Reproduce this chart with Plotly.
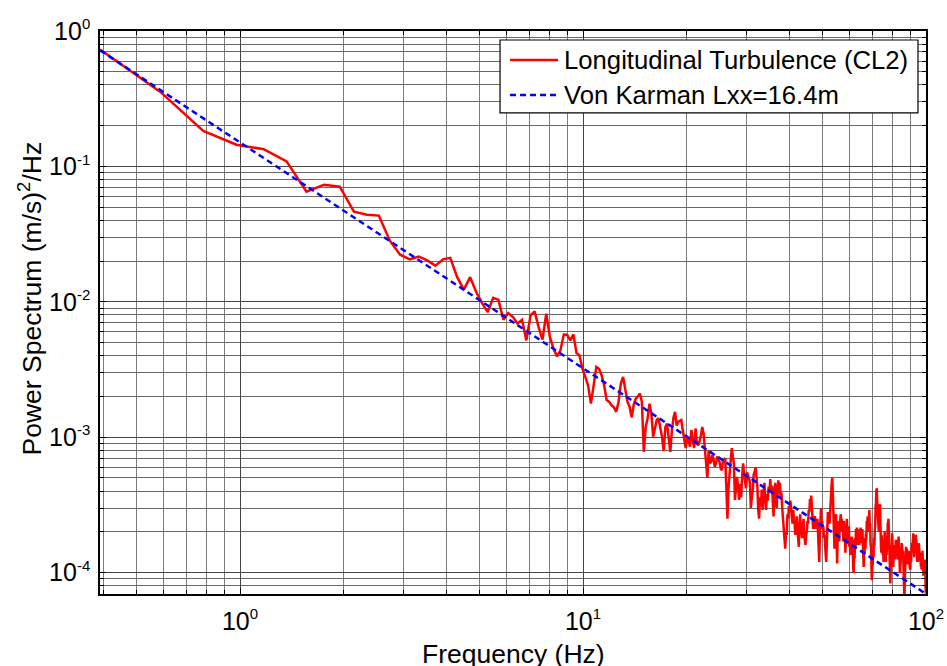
import numpy as np
import plotly.graph_objects as go

# Frequency bin spacing of the spectral estimate (Hz); first bin shown is #2
DF = 0.1953125
FIRST_BIN = 2

# Measured longitudinal turbulence spectrum, CL2 ((m/s)^2/Hz), one value per bin
psd_cl2 = [
    0.73, 0.355, 0.183, 0.1445, 0.134, 0.109, 0.065, 0.0733, 0.0708, 0.0463,
    0.044, 0.0433, 0.0283, 0.0223, 0.0206, 0.0216,
    0.0202, 0.0185, 0.0206, 0.0211, 0.0152, 0.0123, 0.0152, 0.0118, 0.00978, 0.00839,
    0.0107, 0.01035, 0.00737, 0.00826, 0.00771, 0.00689, 0.00737, 0.00519, 0.00793, 0.0085,
    0.0065, 0.00525, 0.00816, 0.00548, 0.00451, 0.00395, 0.00438, 0.00574, 0.00572, 0.00519,
    0.00574, 0.00419, 0.00402, 0.00321, 0.00279, 0.0024,
    1.77e-3, 2.35e-3, 3.3e-3, 3.2e-3, 2.87e-3, 2.42e-3, 1.88e-3, 1.83e-3, 1.72e-3, 1.66e-3,
    1.54e-3, 1.83e-3, 2.49e-3, 2.79e-3, 2.28e-3, 1.83e-3, 1.68e-3, 1.40e-3, 1.75e-3, 1.93e-3,
    2.0e-3, 2.1e-3, 1.83e-3, 7.8e-4, 1.19e-3, 1.38e-3, 1.77e-3, 1.5e-3, 1.01e-3, 1.19e-3,
    1.34e-3, 1.38e-3, 1.19e-3, 1.01e-3, 7.9e-4, 1.19e-3, 1.26e-3, 9.5e-4, 7.8e-4, 1.13e-3,
    1.40e-3, 1.54e-3, 1.22e-3, 1.30e-3, 1.32e-3, 1.34e-3, 1.13e-3, 9.5e-4, 8.3e-4, 1.01e-3,
    9.5e-4, 8.5e-4, 1.13e-3, 9.5e-4, 8.3e-4, 1.16e-3, 9.0e-4, 8.7e-4, 9.3e-4, 1.04e-3,
    1.19e-3, 1.07e-3, 8.0e-4, 6.4e-4, 5.0e-4, 8.0e-4, 6.4e-4, 6.6e-4, 7.4e-4, 6.8e-4,
    6.06e-4, 6.4e-4, 7.2e-4, 6.8e-4, 6.6e-4, 5.9e-4, 5.7e-4, 6.7e-4, 6.9e-4, 7.0e-4,
    4.3e-4, 2.5e-4, 4.3e-4, 5.7e-4, 7.6e-4, 8.3e-4, 7.2e-4, 6.4e-4, 3.44e-4, 4.56e-4,
    5.1e-4, 4.3e-4, 3.44e-4, 4.5e-4, 3.6e-4, 5.1e-4, 6.4e-4, 5.3e-4, 4.6e-4, 4.2e-4,
    5.5e-4, 5.3e-4, 5.0e-4,
    4.6e-4, 3.0e-4, 3.6e-4, 4.0e-4, 5.3e-4, 5.5e-4, 6.0e-4, 4.9e-4, 4.4e-4, 2.9e-4,
    2.5e-4, 3.6e-4, 3.1e-4, 4.1e-4, 2.9e-4, 3.9e-4, 4.6e-4, 3.5e-4, 2.9e-4, 3.8e-4,
    3.4e-4, 4.3e-4, 3.9e-4, 4.9e-4, 3.9e-4, 4.4e-4, 3.0e-4, 2.6e-4, 3.9e-4, 4.6e-4,
    3.3e-4, 3.0e-4, 4.2e-4, 4.8e-4, 3.8e-4, 4.6e-4, 3.6e-4, 3.9e-4, 3.0e-4, 2.6e-4,
    2.0e-4, 1.8e-4, 1.5e-4, 2.0e-4, 1.9e-4, 2.7e-4, 2.5e-4, 3.1e-4, 2.8e-4, 3.4e-4,
    2.6e-4, 2.6e-4, 2.3e-4, 2.9e-4, 2.4e-4, 2.3e-4, 1.9e-4, 2.3e-4, 2.6e-4, 2.1e-4,
    1.9e-4, 1.55e-4, 2.2e-4, 2.7e-4, 2.1e-4, 2.0e-4, 1.8e-4, 2.3e-4, 2.5e-4, 1.9e-4,
    1.7e-4, 1.6e-4, 1.9e-4, 2.0e-4, 2.4e-4, 2.3e-4, 2.9e-4, 2.8e-4, 3.5e-4, 3.3e-4,
    3.7e-4, 2.8e-4, 2.2e-4, 2.1e-4, 2.5e-4, 2.6e-4, 2.6e-4, 2.1e-4, 2.3e-4, 2.1e-4,
    2.5e-4, 2.0e-4, 1.5e-4, 1.2e-4, 1.8e-4, 2.7e-4, 3.0e-4, 2.3e-4, 2.4e-4, 2.1e-4,
    2.2e-4, 1.8e-4, 1.9e-4, 1.6e-4, 1.3e-4, 1.2e-4, 1.6e-4, 2.4e-4, 2.8e-4, 2.4e-4,
    2.6e-4, 2.3e-4, 2.9e-4,
    3.0e-4, 4.3e-4, 4.7e-4, 5.0e-4, 3.8e-4, 3.1e-4, 2.0e-4, 1.5e-4, 2.5e-4, 2.6e-4,
    2.7e-4, 1.7e-4, 1.17e-4, 2.0e-4, 2.4e-4, 2.0e-4, 1.7e-4, 2.3e-4, 2.5e-4, 2.7e-4,
    2.0e-4, 2.5e-4, 2.1e-4, 2.4e-4, 1.7e-4, 2.4e-4, 2.0e-4, 2.1e-4, 1.4e-4, 2.0e-4,
    1.8e-4, 2.5e-4, 1.75e-4, 2.1e-4, 1.65e-4, 2.2e-4, 1.55e-4, 1.85e-4, 1.35e-4, 1.8e-4,
    1.35e-4, 1.85e-4, 1.5e-4, 1.75e-4, 1.1e-4, 0.99e-4, 1.3e-4, 1.3e-4, 1.8e-4, 1.55e-4,
    2.1e-4, 1.65e-4, 2.15e-4, 1.6e-4, 1.95e-4, 1.6e-4, 2.05e-4, 1.6e-4, 2.1e-4, 1.65e-4,
    2.15e-4, 1.7e-4, 2.1e-4, 1.65e-4, 2.1e-4, 1.75e-4, 1.5e-4, 1.1e-4, 1.4e-4, 1.4e-4,
    1.8e-4, 1.5e-4, 1.95e-4, 1.75e-4, 2.4e-4, 2.2e-4, 2.6e-4, 2.0e-4, 2.4e-4, 2.2e-4,
    2.9e-4, 2.2e-4, 2.3e-4, 1.6e-4, 1.6e-4, 1.1e-4, 0.88e-4, 1.1e-4, 1.15e-4, 1.45e-4,
    1.3e-4, 1.8e-4, 1.55e-4, 2.05e-4, 2.2e-4, 3.1e-4, 3.3e-4, 4.0e-4, 4.2e-4, 3.3e-4,
    2.9e-4, 2.4e-4, 2.5e-4, 2.0e-4, 2.8e-4, 2.9e-4, 3.2e-4, 2.3e-4, 1.8e-4, 1.4e-4,
    1.9e-4, 1.6e-4, 1.75e-4, 1.35e-4, 1.5e-4, 1.2e-4, 1.55e-4, 1.6e-4, 2.0e-4, 1.45e-4,
    1.5e-4, 1.2e-4, 1.6e-4, 1.35e-4, 1.7e-4, 1.7e-4, 2.3e-4, 2.3e-4, 2.5e-4, 2.0e-4,
    2.1e-4, 1.4e-4, 1.0e-4, 0.83e-4, 1.1e-4, 1.2e-4, 1.6e-4, 1.5e-4, 1.95e-4, 1.45e-4,
    1.3e-4, 1.1e-4, 1.4e-4, 1.3e-4, 1.6e-4, 1.25e-4, 1.55e-4, 1.35e-4, 1.75e-4, 1.5e-4,
    1.7e-4, 1.25e-4, 1.35e-4, 1.25e-4, 1.75e-4, 1.6e-4, 1.85e-4, 1.35e-4, 1.3e-4, 1.05e-4,
    0.99e-4, 1.15e-4, 1.2e-4, 1.5e-4, 1.35e-4, 1.65e-4, 1.4e-4, 1.55e-4, 1.35e-4, 1.45e-4,
    1.15e-4, 0.95e-4, 0.74e-4, 0.62e-4, 0.9e-4, 1.1e-4, 1.25e-4, 1.2e-4, 1.55e-4, 1.35e-4,
    1.5e-4, 1.2e-4, 1.4e-4, 1.15e-4, 1.35e-4, 1.15e-4, 1.45e-4, 1.2e-4, 1.4e-4, 1.1e-4,
    1.3e-4, 1.05e-4, 1.35e-4, 1.2e-4, 1.5e-4, 1.35e-4, 1.65e-4, 1.45e-4, 1.85e-4, 1.65e-4,
    1.95e-4, 1.55e-4, 1.7e-4, 1.3e-4, 1.5e-4, 1.35e-4, 1.75e-4, 1.55e-4, 1.9e-4, 1.6e-4,
    1.75e-4, 1.35e-4, 1.45e-4, 1.2e-4, 1.35e-4, 1.2e-4, 1.5e-4, 1.35e-4, 1.65e-4, 1.45e-4,
    1.6e-4, 1.3e-4, 1.4e-4, 1.2e-4, 1.35e-4, 1.1e-4, 1.2e-4, 1.05e-4, 1.3e-4, 1.2e-4,
    1.45e-4, 1.15e-4, 1.1e-4, 0.95e-4, 1.15e-4,
    1.2e-4, 0.98e-4, 1.05e-4, 1.0e-4, 1.25e-4, 0.9e-4, 0.7e-4, 0.88e-4,
]
freq_cl2 = DF * np.arange(FIRST_BIN, FIRST_BIN + len(psd_cl2))

# Von Karman model spectrum, Lxx = 16.4 m
vk_freq = [0.390625, 1.0, 3.0, 10.0, 30.0, 100.0]
vk_psd = [0.72, 0.150, 0.0240, 0.00323, 0.000517, 0.0000696]

# Axis ticks (decade labels written as 10^n with a small superscript)
SUP = "10<sup><span style='font-size:15px'>{}</span></sup>"
x_major = [1, 10, 100]
x_major_text = [SUP.format(e) for e in ("0", "1", "2")]
y_major = [1e-4, 1e-3, 1e-2, 1e-1, 1e0]
y_major_text = [SUP.format(e) for e in ("-4", "-3", "-2", "-1", "0")]
x_minor = [m * d for d in (0.1, 1, 10) for m in range(2, 10) if m * d >= 0.39]
y_minor = [m * d for d in (1e-5, 1e-4, 1e-3, 1e-2, 1e-1) for m in range(2, 10)
           if m * d >= 6.9e-5]

FONT = "Liberation Sans, Arial, Helvetica, sans-serif"
FS_TICK = 25
FS_TEXT = 26.5
FS_LEG = 25.7

fig = go.Figure()
fig.add_trace(go.Scatter(
    x=freq_cl2, y=psd_cl2, mode="lines",
    line=dict(color="#ff0000", width=2.5),
    name="Longitudinal Turbulence (CL2)", showlegend=False,
))
fig.add_trace(go.Scatter(
    x=vk_freq, y=vk_psd, mode="lines",
    line=dict(color="#0000ff", width=2.5, dash="6px,4px"),
    name="Von Karman Lxx=16.4m", showlegend=False,
))

axis_common = dict(
    type="log", automargin=False,
    showline=True, linecolor="black", linewidth=1.5, mirror="ticks",
    ticks="inside", ticklen=6, tickcolor="black", tickwidth=1,
    showgrid=True, gridcolor="#464646", gridwidth=1,
    tickfont=dict(family=FONT, size=FS_TICK, color="black"),
    tickmode="array",
)

fig.update_xaxes(
    **axis_common,
    range=[np.log10(0.390625), 2],
    tickvals=x_major, ticktext=x_major_text,
    ticklabelstandoff=4,
    minor=dict(tickmode="array", tickvals=x_minor, ticks="inside", ticklen=4,
               tickcolor="black", showgrid=True, gridcolor="#7c7c7c", gridwidth=1),
)
fig.update_yaxes(
    **axis_common,
    range=[np.log10(6.95e-5), 0],
    tickvals=y_major, ticktext=y_major_text,
    ticklabelstandoff=3,
    minor=dict(tickmode="array", tickvals=y_minor, ticks="inside", ticklen=4,
               tickcolor="black", showgrid=True, gridcolor="#686868", gridwidth=1),
)

# Legend box drawn in the upper right corner of the axes
legend_x0, legend_x1 = 0.4843, 0.9903
legend_y0, legend_y1 = 0.8544, 0.9840
row_y = [0.9485, 0.8863]
sample_x0, sample_x1, text_x = 0.4964, 0.5545, 0.5594

shapes = [
    dict(type="rect", xref="paper", yref="paper",
         x0=legend_x0, x1=legend_x1, y0=legend_y0, y1=legend_y1,
         line=dict(color="black", width=1.2), fillcolor="white", layer="above"),
    dict(type="line", xref="paper", yref="paper",
         x0=sample_x0, x1=sample_x1, y0=row_y[0], y1=row_y[0],
         line=dict(color="#ff0000", width=2.5), layer="above"),
    dict(type="line", xref="paper", yref="paper",
         x0=sample_x0, x1=sample_x1, y0=row_y[1], y1=row_y[1],
         line=dict(color="#0000ff", width=2.5, dash="6px,4px"), layer="above"),
]
annotations = [
    dict(text="Longitudinal Turbulence (CL2)", xref="paper", yref="paper",
         x=text_x, y=row_y[0], xanchor="left", yanchor="middle", showarrow=False,
         font=dict(family=FONT, size=FS_LEG, color="black")),
    dict(text="Von Karman Lxx=16.4m", xref="paper", yref="paper",
         x=text_x, y=row_y[1], xanchor="left", yanchor="middle", showarrow=False,
         font=dict(family=FONT, size=FS_LEG, color="black")),
    dict(text="Frequency (Hz)", xref="paper", yref="paper",
         x=0.5, y=-0.106, xanchor="center", yanchor="middle", showarrow=False,
         font=dict(family=FONT, size=FS_TEXT, color="black")),
    dict(text="Power Spectrum (m/s)<sup>2</sup>/Hz", xref="paper", yref="paper",
         x=-0.0847, y=0.525, xanchor="center", yanchor="middle", showarrow=False,
         textangle=-90, font=dict(family=FONT, size=FS_TEXT, color="black")),
]

fig.update_layout(
    width=947, height=666, autosize=False,
    margin=dict(l=100, r=21, t=31, b=72),
    paper_bgcolor="white", plot_bgcolor="white",
    font=dict(family=FONT, size=FS_TICK, color="black"),
    shapes=shapes, annotations=annotations,
    showlegend=False,
)

fig.write_html("out.html")
